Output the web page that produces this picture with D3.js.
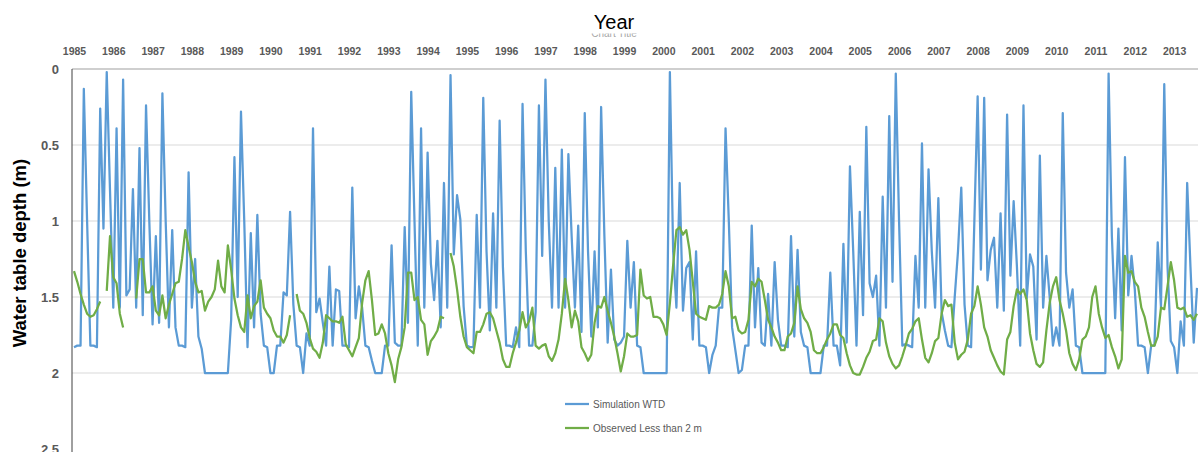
<!DOCTYPE html>
<html><head><meta charset="utf-8">
<script src="https://cdn.jsdelivr.net/npm/d3@7"></script>
<style>body{margin:0;background:#fff}svg{display:block}</style>
</head><body>
<svg id="chart" width="1198" height="452"></svg>
<script>
// Monthly series, Jan 1985 onwards (index = month number)
const simulationWTD = [
1.83,1.82,1.82,0.13,1.0,1.82,1.82,1.83,0.26,1.05,0.02,0.8,
1.57,0.39,1.57,0.07,1.49,1.45,0.79,1.57,0.52,1.62,0.24,1.0,
1.68,1.10,1.67,0.16,1.0,1.70,1.06,1.70,1.82,1.82,1.83,0.68,
1.57,1.25,1.76,1.84,2.0,2.0,2.0,2.0,2.0,2.0,2.0,2.0,
1.65,0.58,1.5,0.28,1.0,1.83,1.08,1.70,0.96,1.61,1.82,1.83,
2.0,2.0,1.82,1.82,1.47,1.49,0.94,1.55,1.82,1.83,2.0,1.74,
1.82,0.39,1.60,1.51,1.67,1.82,1.30,1.82,1.45,1.46,1.82,1.82,
1.83,0.78,1.64,1.43,1.57,1.82,1.83,1.92,2.0,2.0,2.0,1.82,
1.82,1.16,1.80,1.82,1.82,1.04,1.67,0.15,1.0,1.82,0.39,1.57,
0.55,1.28,1.52,1.13,1.70,0.75,1.57,0.04,1.22,0.83,0.99,1.56,
1.82,1.83,1.83,0.96,1.57,0.19,1.2,1.72,0.95,1.57,0.34,1.3,
1.82,1.82,1.83,1.70,1.83,0.23,1.2,1.82,1.82,1.6,0.24,1.23,
0.07,1.0,1.57,0.65,1.57,0.53,1.57,0.56,1.1,1.57,1.03,1.73,
0.29,1.2,1.76,1.20,1.70,0.25,1.1,1.80,1.32,1.78,1.82,1.80,
1.76,1.13,1.57,1.27,1.82,1.83,2.0,2.0,2.0,2.0,2.0,2.0,
2.0,2.0,0.02,1.2,1.57,0.75,1.59,1.31,1.27,1.78,1.20,1.82,
1.82,1.83,2.0,1.88,1.82,1.57,1.57,0.39,1.0,1.70,1.85,2.0,
1.98,1.82,1.82,1.03,1.70,1.31,1.80,1.82,1.48,1.82,1.27,1.65,
1.82,1.82,1.83,1.10,1.76,1.19,1.73,1.82,1.83,2.0,2.0,2.0,
2.0,1.82,1.82,1.34,1.82,1.82,1.95,1.15,1.80,0.64,1.2,1.82,
0.94,1.62,0.38,1.41,1.50,1.36,1.82,0.84,1.57,0.31,1.40,0.03,
1.0,1.82,1.81,1.82,1.83,1.23,1.57,0.49,1.57,0.66,1.2,1.57,
0.85,1.6,1.72,1.82,1.83,1.5,1.2,0.78,1.55,1.82,1.83,1.0,
0.18,1.32,0.19,1.39,1.19,1.11,1.57,0.95,1.59,0.30,1.36,0.87,
1.3,1.82,0.24,1.51,1.22,1.30,1.78,0.57,1.57,1.23,1.5,1.82,
1.70,1.82,0.29,1.34,1.57,1.45,1.82,1.83,2.0,2.0,2.0,2.0,
2.0,2.0,2.0,2.0,0.03,1.1,1.64,1.05,1.72,0.58,1.49,1.23,
1.45,1.82,1.82,1.83,2.0,1.82,1.82,1.14,1.57,0.10,1.3,1.79,
1.83,2.0,1.66,1.82,0.75,1.3,1.80,1.44];

const observedWTD = [
1.33,1.40,1.48,1.55,1.61,1.63,1.62,1.58,1.53,null,1.46,1.10,
1.37,1.41,1.61,1.70,null,null,null,1.51,1.25,1.25,1.47,1.47,
1.43,1.59,1.62,1.49,1.64,1.55,1.48,1.41,1.40,1.25,1.06,1.17,
1.27,1.40,1.47,1.46,1.59,1.53,1.50,1.45,1.26,1.43,1.47,1.16,
1.32,1.51,1.62,1.70,1.73,1.49,1.64,1.56,1.53,1.39,1.57,1.61,
1.64,1.72,1.76,1.76,1.80,1.75,1.62,null,1.48,1.59,1.61,1.67,
1.77,1.84,1.86,1.90,1.80,1.62,1.64,1.66,1.66,1.67,1.63,1.81,
1.85,1.89,1.83,1.77,1.54,1.39,1.33,1.52,1.75,1.74,1.68,1.74,
1.87,1.95,2.06,1.91,1.83,1.70,1.34,1.34,1.52,1.50,1.65,1.68,
1.88,1.79,1.76,1.72,1.63,1.64,null,1.21,1.30,1.45,1.63,1.76,
1.83,1.85,1.87,1.73,1.73,1.68,1.61,1.60,1.64,1.72,1.80,1.91,
1.96,1.96,1.87,1.80,1.72,1.60,1.70,1.66,1.57,1.82,1.84,1.82,
1.81,1.89,1.92,1.87,1.78,1.61,1.38,1.52,1.70,1.59,1.66,1.83,
1.87,1.92,1.88,1.67,1.56,1.57,1.50,1.59,1.67,1.76,1.87,1.99,
1.89,1.74,1.76,1.76,1.75,1.32,1.49,1.51,1.50,1.63,1.63,1.64,
1.68,1.75,1.54,1.29,1.06,1.04,1.09,1.06,1.19,1.40,1.61,1.63,
1.64,1.65,1.56,1.57,1.57,1.55,1.48,1.33,1.43,1.64,1.63,1.72,
1.74,1.73,1.65,1.40,1.43,1.38,1.40,1.52,1.65,1.70,1.76,1.80,
1.85,1.85,1.76,1.74,1.67,1.43,1.58,1.64,1.67,1.73,1.85,1.87,
1.87,1.83,1.78,1.74,1.68,1.68,1.75,1.77,1.87,1.95,2.0,2.01,
2.01,1.96,1.90,1.86,1.79,1.78,1.64,1.66,1.80,1.89,1.94,1.97,
1.95,1.89,1.82,1.74,1.71,1.66,1.64,1.78,1.90,1.93,1.87,1.79,
1.77,1.61,1.52,1.56,1.55,1.80,1.91,1.88,1.86,1.78,1.61,1.56,
1.43,1.55,1.70,1.76,1.85,1.90,1.95,1.99,2.01,1.78,1.73,1.56,
1.45,1.48,1.45,1.52,1.74,1.85,1.94,1.96,1.93,1.72,1.54,1.43,
1.37,1.52,1.61,1.72,1.87,1.94,1.98,1.91,1.78,1.76,1.70,1.50,
1.43,1.61,1.70,1.77,1.75,1.83,1.89,1.97,1.91,1.23,1.34,1.33,
1.40,1.43,1.57,1.63,1.73,1.82,1.82,1.76,1.57,1.58,1.43,1.27,
1.39,1.57,1.58,1.57,1.63,1.62,1.65,1.61];

const yearLabels = d3.range(1985, 2014);          // one label per January
const yTicks = [0, 0.5, 1, 1.5, 2, 2.5];
const seriesNames = ["Simulation WTD", "Observed Less than 2 m"];
const seriesColors = ["#5B9BD5", "#70AD47"];

(function () {
const svg = d3.select("#chart");
const FONT = "'Liberation Sans', Arial, sans-serif";
const pLeft = 72, pRight = 1198, pTop = 69, pBottom = 449;

const x = d3.scaleLinear().domain([0, simulationWTD.length - 1]).range([74, 1197]);
const y = d3.scaleLinear().domain([0, 2.5]).range([pTop, pBottom]);

// gridlines
svg.append("g").selectAll("line").data(yTicks.filter(t => t > 0 && t < 2.5)).join("line")
  .attr("x1", pLeft).attr("x2", pRight).attr("y1", d => y(d)).attr("y2", d => y(d))
  .attr("stroke", "#d9d9d9").attr("stroke-width", 1);

// top (category) axis at value 0
const xAxis = d3.axisTop(x).tickValues(yearLabels.map((yr, k) => k * 12))
  .tickFormat((d, k) => yearLabels[k]).tickSize(0).tickPadding(14);
const gx = svg.append("g").attr("transform", `translate(0,${pTop})`).call(xAxis);
gx.select(".domain").remove();
gx.selectAll("text").attr("font-family", FONT).attr("font-size", 10.5)
  .attr("font-weight", "bold").attr("fill", "#595959");
svg.append("line").attr("x1", pLeft).attr("x2", pRight).attr("y1", pTop).attr("y2", pTop)
  .attr("stroke", "#bfbfbf").attr("stroke-width", 1.5);

// left value axis
const yAxis = d3.axisLeft(y).tickValues(yTicks).tickFormat(d3.format("~g")).tickSize(0).tickPadding(13);
const gy = svg.append("g").attr("transform", `translate(${pLeft},0)`).call(yAxis);
gy.select(".domain").remove();
gy.selectAll("text").attr("font-family", FONT).attr("font-size", 13)
  .attr("font-weight", "bold").attr("fill", "#595959");
svg.append("line").attr("x1", pLeft).attr("x2", pLeft).attr("y1", pTop).attr("y2", 452)
  .attr("stroke", "#404040").attr("stroke-width", 1);

// series
const line = d3.line().defined(d => d != null).x((d, i) => x(i)).y(d => y(d));
[simulationWTD, observedWTD].forEach((s, k) => {
  svg.append("path").datum(s).attr("fill", "none").attr("stroke", seriesColors[k])
    .attr("stroke-width", 2.25).attr("stroke-linejoin", "round").attr("d", line);
});

// legend
const lg = svg.append("g");
seriesNames.forEach((n, k) => {
  const yy = 404 + k * 24;
  lg.append("line").attr("x1", 565).attr("x2", 589).attr("y1", yy).attr("y2", yy)
    .attr("stroke", seriesColors[k]).attr("stroke-width", 2.25);
  lg.append("text").attr("x", 593).attr("y", yy + 3.5).text(n)
    .attr("font-family", FONT).attr("font-size", 10).attr("fill", "#595959");
});

// titles (a default "Chart Title" peeks out below "Year", mostly hidden)
svg.append("clipPath").attr("id", "ctclip").append("rect")
  .attr("x", 560).attr("y", 33.5).attr("width", 120).attr("height", 4);
svg.append("text").attr("x", 614).attr("y", 37).attr("text-anchor", "middle")
  .attr("clip-path", "url(#ctclip)").attr("font-family", FONT).attr("font-size", 10)
  .attr("fill", "#a6a6a6").text("Chart Title");
svg.append("text").attr("x", 614).attr("y", 29).attr("text-anchor", "middle")
  .attr("font-family", FONT).attr("font-size", 20).attr("fill", "#000").text("Year");
svg.append("text").attr("transform", "translate(26,253) rotate(-90)").attr("text-anchor", "middle")
  .attr("font-family", FONT).attr("font-size", 18.5).attr("font-weight", "bold")
  .attr("fill", "#000").text("Water table depth (m)");
})();
</script>
</body></html>
